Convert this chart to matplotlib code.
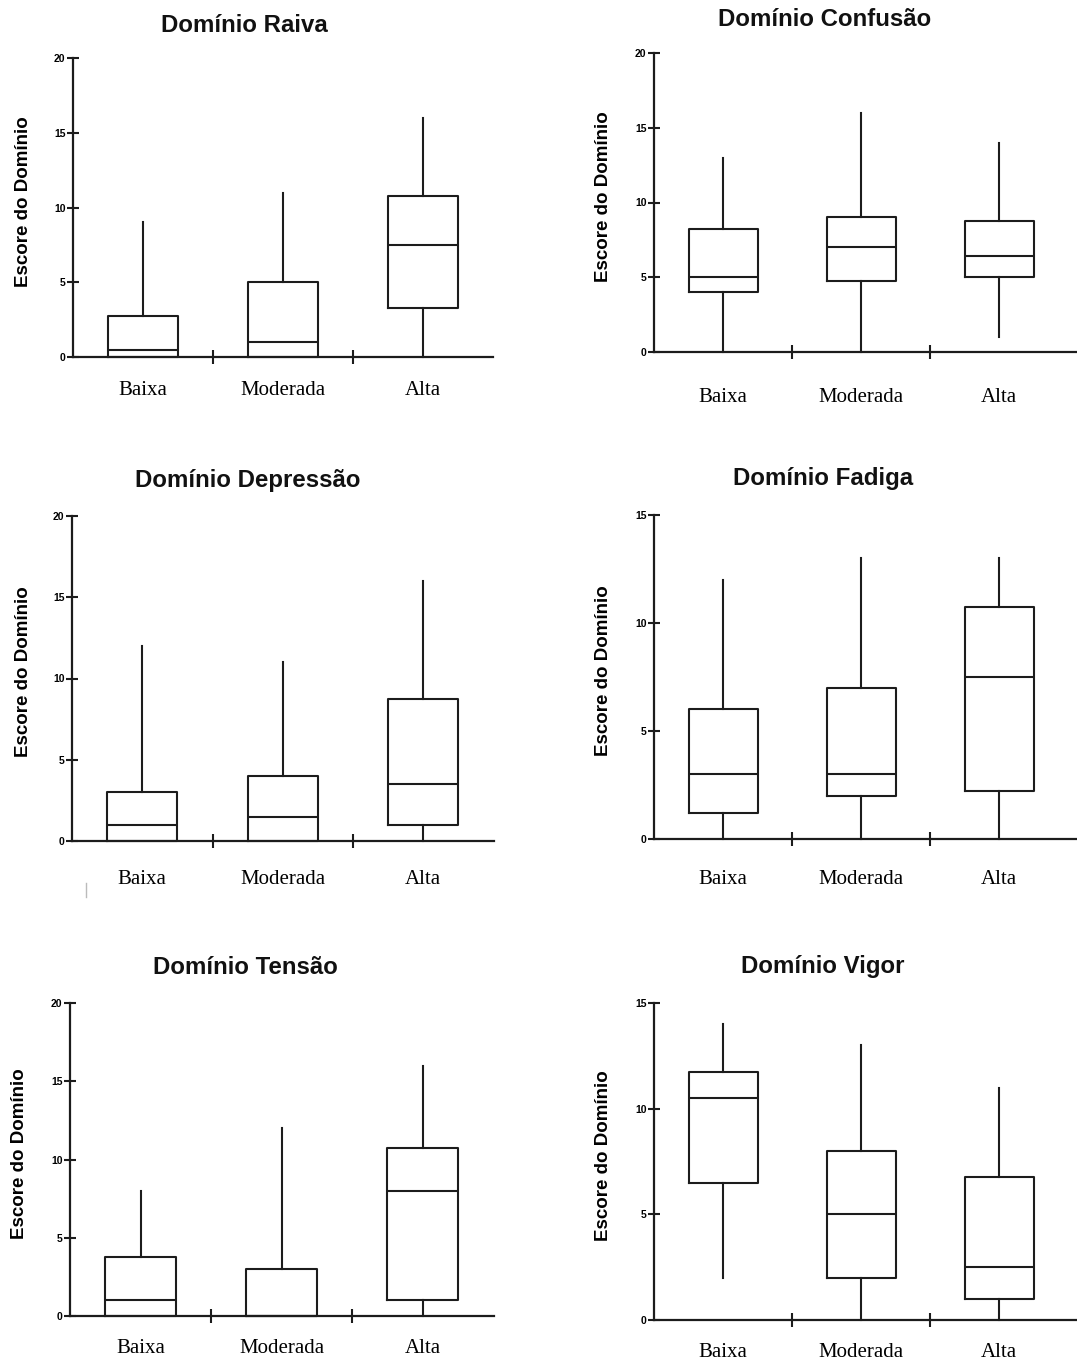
import matplotlib
matplotlib.use("Agg")
import matplotlib.pyplot as plt
from matplotlib.lines import Line2D

categories = ["Baixa", "Moderada", "Alta"]

# stats per category: [whisker low, Q1, median, Q3, whisker high]
raiva_low = [0, 0, 0]
raiva_q1 = [0, 0, 3.25]
raiva_med = [0.5, 1, 7.5]
raiva_q3 = [2.75, 5, 10.75]
raiva_high = [9, 11, 16]

confusao_low = [0, 0, 1]
confusao_q1 = [4, 4.75, 5]
confusao_med = [5, 7, 6.4]
confusao_q3 = [8.25, 9, 8.75]
confusao_high = [13, 16, 14]

depressao_low = [0, 0, 0]
depressao_q1 = [0, 0, 1]
depressao_med = [1, 1.5, 3.5]
depressao_q3 = [3, 4, 8.75]
depressao_high = [12, 11, 16]

fadiga_low = [0, 0, 0]
fadiga_q1 = [1.2, 2, 2.2]
fadiga_med = [3, 3, 7.5]
fadiga_q3 = [6, 7, 10.75]
fadiga_high = [12, 13, 13]

tensao_low = [0, 0, 0]
tensao_q1 = [0, 0, 1]
tensao_med = [1, 0, 8]
tensao_q3 = [3.75, 3, 10.75]
tensao_high = [8, 12, 16]

vigor_low = [2, 0, 0]
vigor_q1 = [6.5, 2, 1]
vigor_med = [10.5, 5, 2.5]
vigor_q3 = [11.75, 8, 6.75]
vigor_high = [14, 13, 11]

titles = ["Domínio Raiva", "Domínio Confusão", "Domínio Depressão",
          "Domínio Fadiga", "Domínio Tensão", "Domínio Vigor"]
y_max = [20, 20, 20, 15, 20, 15]
y_ticks = [[0, 5, 10, 15, 20], [0, 5, 10, 15, 20], [0, 5, 10, 15, 20],
           [0, 5, 10, 15], [0, 5, 10, 15, 20], [0, 5, 10, 15]]
y_label = "Escore do Domínio"

panels = [
    (raiva_low, raiva_q1, raiva_med, raiva_q3, raiva_high),
    (confusao_low, confusao_q1, confusao_med, confusao_q3, confusao_high),
    (depressao_low, depressao_q1, depressao_med, depressao_q3, depressao_high),
    (fadiga_low, fadiga_q1, fadiga_med, fadiga_q3, fadiga_high),
    (tensao_low, tensao_q1, tensao_med, tensao_q3, tensao_high),
    (vigor_low, vigor_q1, vigor_med, vigor_q3, vigor_high),
]

# layout in pixels: (spine x, right end x, y of 0, y of top, category width,
#                    title x, title y, label center y, ylabel offset)
W, H = 1077, 1364
layout = [
    (73, 493, 357, 58, 140, 244, 25, 388, 41),
    (654, 1077, 352, 53, 138, 825, 20, 395, 42),
    (72, 494, 841, 516, 140.5, 248, 480, 877, 40),
    (654, 1077, 839, 515, 138, 823, 478, 877, 42),
    (70, 494, 1316, 1003, 141, 245, 968, 1346, 42),
    (654, 1077, 1320, 1003, 138, 823, 967, 1350, 42),
]

LC = "#1c1c1c"
fig = plt.figure(figsize=(W / 100, H / 100), dpi=100)
PX = 72 / 100  # points per pixel

for i, (stats_lists, lay) in enumerate(zip(panels, layout)):
    x0, x1, y0, yt, cw, tx, ty, ly, lo_off = lay
    ax = fig.add_axes([x0 / W, 1 - y0 / H, (x1 - x0) / W, (y0 - yt) / H])
    lo, q1, med, q3, hi = stats_lists
    stats = []
    for j, c in enumerate(categories):
        stats.append(dict(whislo=lo[j], q1=q1[j], med=med[j], q3=q3[j],
                          whishi=hi[j], label=c, fliers=[]))
    lw = 1.5
    ax.bxp(stats, positions=[1, 2, 3], widths=0.5, showcaps=False,
           showfliers=False,
           boxprops=dict(color=LC, linewidth=lw),
           whiskerprops=dict(color=LC, linewidth=lw),
           medianprops=dict(color=LC, linewidth=lw))
    for art in ax.lines + ax.patches:
        art.set_clip_on(False)
    xmax = 0.5 + (x1 - x0) / cw
    ax.set_xlim(0.5, xmax)
    ax.set_ylim(0, y_max[i])
    for s in ["top", "right"]:
        ax.spines[s].set_visible(False)
    for s in ["left", "bottom"]:
        ax.spines[s].set_linewidth(1.6)
        ax.spines[s].set_color(LC)
    ax.spines["left"].set_bounds(0, y_max[i])
    ax.set_yticks(y_ticks[i])
    ax.set_yticklabels([str(t) for t in y_ticks[i]])
    ax.tick_params(axis="y", direction="inout", length=12 * PX, width=1.5,
                   color=LC, pad=1, labelsize=7.5)
    for lab in ax.get_yticklabels():
        lab.set_fontweight("bold")
        lab.set_family("Liberation Sans")
    major = [t for t in (1.5, 2.5, 3.5) if t <= xmax - 0.1]
    ax.set_xticks(major)
    ax.set_xticklabels([""] * len(major))
    ax.set_xticks([1, 2, 3], minor=True)
    ax.set_xticklabels(categories, minor=True, family="Liberation Serif",
                       fontsize=15)
    ax.tick_params(axis="x", which="major", direction="inout",
                   length=14 * PX, width=1.5, color=LC)
    ax.tick_params(axis="x", which="minor", length=0,
                   pad=(ly - y0 - 7) * PX)
    ax.set_ylabel(y_label, family="Liberation Sans", fontweight="bold",
                  fontsize=13.5)
    ax.yaxis.set_label_coords(-lo_off / (x1 - x0), 0.52)
    fig.text(tx / W, 1 - ty / H, titles[i], ha="center", va="center",
             family="Liberation Sans", fontweight="bold", fontsize=17.3,
             color="#111111")

fig.add_artist(Line2D([86 / W, 86 / W], [1 - 883 / H, 1 - 897 / H],
                      color="#bbbbbb", lw=1))

fig.savefig("out.png", dpi=100, facecolor="white")
